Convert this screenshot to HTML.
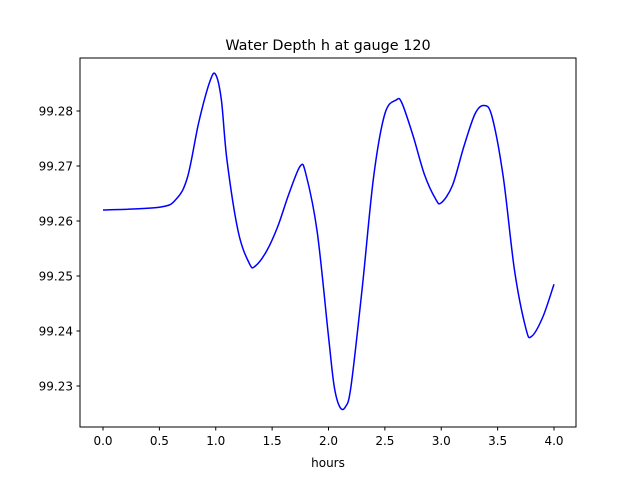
<!DOCTYPE html>
<html><head><meta charset="utf-8"><style>
body{margin:0;background:#fff;font-family:"Liberation Sans","DejaVu Sans",sans-serif;}
svg text{font-family:"DejaVu Sans","Liberation Sans",sans-serif;}
</style></head><body>
<svg id="chart" width="640" height="480" xmlns="http://www.w3.org/2000/svg">
<rect width="640" height="480" fill="#fff"/>
<text x="328" y="50" font-size="14.4" text-anchor="middle">Water Depth h at gauge 120</text>
<g id="ticks"></g>
<path id="line" fill="none" stroke="#0000ff" stroke-width="1.5"/>
<rect x="80" y="58" width="496" height="369" fill="none" stroke="#000" stroke-width="1"/>
<text x="328" y="467" font-size="12" text-anchor="middle">hours</text>
</svg>
<script>
const hours=[0,0.5,0.65,0.75,0.85,0.95,1.0,1.05,1.1,1.2,1.3,1.35,1.45,1.55,1.65,1.75,1.8,1.9,2.0,2.05,2.1,2.15,2.2,2.3,2.4,2.5,2.6,2.65,2.75,2.85,2.95,3.0,3.1,3.2,3.3,3.38,3.45,3.55,3.65,3.75,3.8,3.9,4.0];
const depth=[99.262,99.2625,99.264,99.268,99.278,99.2855,99.2866,99.282,99.271,99.258,99.2522,99.2518,99.2545,99.259,99.265,99.270,99.2685,99.258,99.239,99.230,99.2262,99.2262,99.230,99.248,99.268,99.2795,99.282,99.2815,99.2755,99.2685,99.264,99.2633,99.2665,99.2735,99.2795,99.281,99.279,99.268,99.251,99.2405,99.239,99.2425,99.2485];
const xTicks=[0,0.5,1,1.5,2,2.5,3,3.5,4];
const yTicks=[99.23,99.24,99.25,99.26,99.27,99.28];
const xs=v=>103+v*112.75;
const ys=v=>111+(99.28-v)*5500;
const NS="http://www.w3.org/2000/svg";
const g=document.getElementById('ticks');
function mk(t,a){const e=document.createElementNS(NS,t);for(const k in a)e.setAttribute(k,a[k]);g.appendChild(e);return e;}
xTicks.forEach(t=>{
 const l=mk('line',{x1:xs(t),x2:xs(t),y1:427,y2:430.5,stroke:'#000'});
 
 
 const tx=mk('text',{x:xs(t),y:445,'font-size':12,'text-anchor':'middle'});tx.textContent=t.toFixed(1);
 
 
});
yTicks.forEach(t=>{
 const l=mk('line',{x1:76.5,x2:80,y1:ys(t),y2:ys(t),stroke:'#000'});
 
 
 const tx=mk('text',{x:73,y:ys(t)+4.5,'font-size':12,'text-anchor':'end'});tx.textContent=t.toFixed(2);
 
 
});
const P=hours.map((h,i)=>[xs(h),ys(depth[i])]);
let d='M'+P[0][0]+','+P[0][1];
for(let i=0;i<P.length-1;i++){
 const p0=P[Math.max(0,i-1)],p1=P[i],p2=P[i+1],p3=P[Math.min(P.length-1,i+2)];
 const c1=[p1[0]+(p2[0]-p0[0])/6,p1[1]+(p2[1]-p0[1])/6];
 const c2=[p2[0]-(p3[0]-p1[0])/6,p2[1]-(p3[1]-p1[1])/6];
 d+=` C${c1[0]},${c1[1]} ${c2[0]},${c2[1]} ${p2[0]},${p2[1]}`;
}
document.getElementById('line').setAttribute('d',d);
</script>
</body></html>
